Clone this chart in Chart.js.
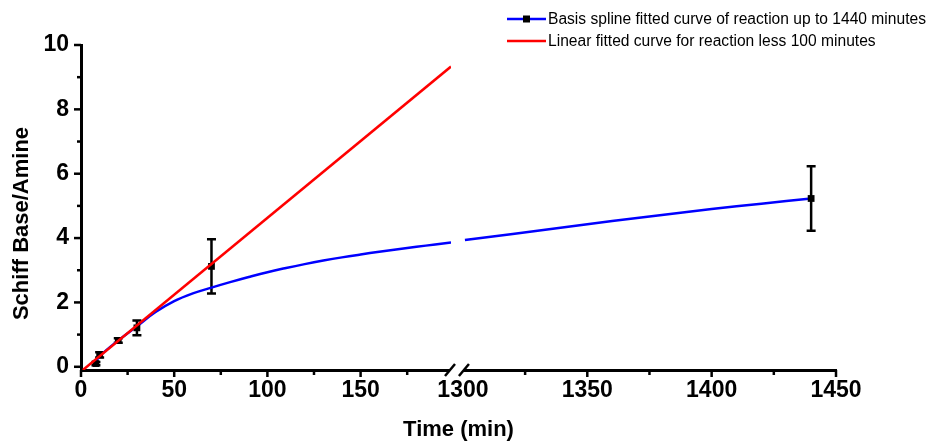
<!DOCTYPE html>
<html>
<head>
<meta charset="utf-8">
<script src="https://cdn.jsdelivr.net/npm/chart.js@4.4.1/dist/chart.umd.min.js"></script>
<style>
html, body { margin: 0; padding: 0; background: #fff; }
#wrap { width: 930px; height: 441px; position: relative; }
</style>
</head>
<body>
<div id="wrap"><canvas id="schiffChart"></canvas></div>
<script>
// measured points (time in min, Schiff base / amine) with std deviation
const pointTimesEarly = [8, 10, 20, 30, 70];
const pointValuesEarly = [0.1, 0.37, 0.82, 1.21, 3.12];
const pointErrorsEarly = [0.05, 0.08, 0.07, 0.23, 0.84];
const pointTimesLate = [1440];
const pointValuesLate = [5.23];
const pointErrorsLate = [1.0];

// basis spline curve
const splineTimesEarly = [8, 10, 20, 30, 40, 50, 60, 70, 80, 90, 100, 110, 120, 130, 140, 150, 160, 170, 180, 190, 198.5];
const splineValuesEarly = [0.15, 0.33, 0.82, 1.26, 1.7, 2.04, 2.28, 2.46, 2.63, 2.79, 2.94, 3.07, 3.19, 3.3, 3.4, 3.49, 3.575, 3.655, 3.73, 3.8, 3.86];
const splineTimesLate = [1300.8, 1320, 1340, 1360, 1380, 1400, 1420, 1440];
const splineValuesLate = [3.94, 4.13, 4.33, 4.53, 4.72, 4.9, 5.07, 5.23];

// linear fit of the first 100 minutes
const linearTimes = [1, 198.5];
const linearValues = [-0.1, 9.33];

const yTicks = [0, 1, 2, 3, 4, 5, 6, 7, 8, 9, 10];
const xTicksEarly = [0, 25, 50, 75, 100, 125, 150, 175];
const xTicksLate = [1300, 1325, 1350, 1375, 1400, 1425, 1450];

const seriesLabels = [
    'Basis spline fitted curve of reaction up to 1440 minutes',
    'Linear fitted curve for reaction less 100 minutes'
];
const xTitle = 'Time (min)';
const yTitle = 'Schiff Base/Amine';

const BLUE = 'rgb(0, 0, 255)';
const RED = 'rgb(255, 0, 0)';
const FONT = '"Liberation Sans", Arial, Helvetica, sans-serif';

const toXY = (xs, ys) => xs.map((x, i) => ({ x: x, y: ys[i] }));

function drawErrorBars(ctx, xScale, yScale, xs, ys, errs) {
    ctx.save();
    ctx.strokeStyle = '#000';
    ctx.lineWidth = 2.5;
    xs.forEach((t, i) => {
        const px = xScale.getPixelForValue(t);
        const top = yScale.getPixelForValue(ys[i] + errs[i]);
        const bot = yScale.getPixelForValue(ys[i] - errs[i]);
        ctx.beginPath();
        ctx.moveTo(px, top); ctx.lineTo(px, bot);
        ctx.moveTo(px - 4.5, top); ctx.lineTo(px + 4.5, top);
        ctx.moveTo(px - 4.5, bot); ctx.lineTo(px + 4.5, bot);
        ctx.stroke();
    });
    ctx.restore();
}

const brokenAxisPlugin = {
    id: 'brokenAxis',
    beforeDatasetsDraw(chart) {
        const { ctx, scales } = chart;
        drawErrorBars(ctx, scales.x1, scales.y, pointTimesEarly, pointValuesEarly, pointErrorsEarly);
        drawErrorBars(ctx, scales.x2, scales.y, pointTimesLate, pointValuesLate, pointErrorsLate);
    },
    afterDraw(chart) {
        const { ctx, scales, chartArea } = chart;
        const axisY = chartArea.bottom;
        ctx.save();
        ctx.strokeStyle = '#000';
        ctx.lineWidth = 2.5;

        // tick marks: long for labelled values, short for the others
        const yScale = scales.y;
        yScale.ticks.forEach(t => {
            const py = yScale.getPixelForValue(t.value);
            const len = t.value % 2 === 0 ? 7 : 4;
            ctx.beginPath();
            ctx.moveTo(chartArea.left - len, py);
            ctx.lineTo(chartArea.left, py);
            ctx.stroke();
        });
        [scales.x1, scales.x2].forEach(sc => {
            sc.ticks.forEach(t => {
                if (t.value === 1300) return;
                const px = sc.getPixelForValue(t.value);
                const len = t.value % 50 === 0 ? 7 : 5;
                ctx.beginPath();
                ctx.moveTo(px, axisY);
                ctx.lineTo(px, axisY + len);
                ctx.stroke();
            });
        });

        // axis break
        const b1 = scales.x1.right - 1;
        const b2 = scales.x2.getPixelForValue(1300) + 1;
        ctx.fillStyle = '#fff';
        ctx.fillRect(b1, axisY - 3, b2 - b1, 6);
        ctx.lineWidth = 2.5;
        [b1, b2].forEach(bx => {
            ctx.beginPath();
            ctx.moveTo(bx - 5, axisY + 6);
            ctx.lineTo(bx + 5, axisY - 6);
            ctx.stroke();
        });

        // axis titles
        ctx.fillStyle = '#000';
        ctx.font = 'bold 22px ' + FONT;
        ctx.textAlign = 'center';
        ctx.textBaseline = 'middle';
        ctx.fillText(xTitle, (scales.x1.left + scales.x2.right) / 2, 430);
        ctx.save();
        ctx.translate(22, (chartArea.top + chartArea.bottom) / 2 + 16);
        ctx.rotate(-Math.PI / 2);
        ctx.fillText(yTitle, 0, 0);
        ctx.restore();

        // legend
        const legendRows = [
            { label: seriesLabels[0], color: BLUE, marker: true, y: 19 },
            { label: seriesLabels[1], color: RED, marker: false, y: 41 }
        ];
        ctx.font = '15.6px ' + FONT;
        ctx.textAlign = 'left';
        legendRows.forEach(row => {
            ctx.strokeStyle = row.color;
            ctx.lineWidth = 2.5;
            ctx.beginPath();
            ctx.moveTo(507, row.y);
            ctx.lineTo(546, row.y);
            ctx.stroke();
            if (row.marker) {
                ctx.fillStyle = '#000';
                ctx.fillRect(523, row.y - 3.5, 7, 7);
            }
            ctx.fillStyle = '#000';
            ctx.fillText(row.label, 548, row.y + 1);
        });
        ctx.restore();
    }
};

const tickFont = { family: FONT, size: 23, weight: 'bold' };

const ctx = document.getElementById('schiffChart').getContext('2d');
new Chart(ctx, {
    type: 'line',
    data: {
        datasets: [
            {
                label: seriesLabels[1],
                data: toXY(linearTimes, linearValues),
                xAxisID: 'x1',
                borderColor: RED,
                borderWidth: 2.5,
                pointRadius: 0,
                order: 0
            },
            {
                type: 'scatter',
                label: 'points early',
                data: toXY(pointTimesEarly, pointValuesEarly),
                xAxisID: 'x1',
                pointStyle: 'rect',
                pointRadius: 4.8,
                backgroundColor: '#000',
                borderColor: '#000',
                borderWidth: 0,
                order: 1
            },
            {
                type: 'scatter',
                label: 'points late',
                data: toXY(pointTimesLate, pointValuesLate),
                xAxisID: 'x2',
                pointStyle: 'rect',
                pointRadius: 4.8,
                backgroundColor: '#000',
                borderColor: '#000',
                borderWidth: 0,
                order: 1
            },
            {
                label: seriesLabels[0],
                data: toXY(splineTimesEarly, splineValuesEarly),
                xAxisID: 'x1',
                borderColor: BLUE,
                borderWidth: 2.5,
                pointRadius: 0,
                tension: 0.4,
                order: 2
            },
            {
                label: seriesLabels[0] + ' (late)',
                data: toXY(splineTimesLate, splineValuesLate),
                xAxisID: 'x2',
                borderColor: BLUE,
                borderWidth: 2.5,
                pointRadius: 0,
                tension: 0.4,
                order: 2
            }
        ]
    },
    options: {
        responsive: true,
        maintainAspectRatio: false,
        animation: false,
        layout: { padding: { top: 45, right: 94, bottom: 0, left: 0 } },
        plugins: {
            legend: { display: false },
            tooltip: { enabled: false }
        },
        scales: {
            x1: {
                type: 'linear',
                position: 'bottom',
                stack: 'time',
                stackWeight: 370,
                min: 0,
                max: 198.5,
                grid: { display: false, drawTicks: false },
                border: { display: true, color: '#000', width: 3 },
                afterBuildTicks: sc => { sc.ticks = xTicksEarly.map(v => ({ value: v })); },
                afterFit: sc => { sc.height = 71; },
                ticks: {
                    autoSkip: false,
                    maxRotation: 0,
                    padding: 7,
                    color: '#000',
                    font: tickFont,
                    callback: v => (v % 50 === 0 ? String(v) : '')
                }
            },
            x2: {
                type: 'linear',
                position: 'bottom',
                stack: 'time',
                stackWeight: 385,
                min: 1295.2,
                max: 1450,
                grid: { display: false, drawTicks: false },
                border: { display: true, color: '#000', width: 3 },
                afterBuildTicks: sc => { sc.ticks = xTicksLate.map(v => ({ value: v })); },
                afterFit: sc => { sc.height = 71; },
                ticks: {
                    autoSkip: false,
                    maxRotation: 0,
                    padding: 7,
                    color: '#000',
                    font: tickFont,
                    callback: v => (v % 50 === 0 ? String(v) : '')
                }
            },
            y: {
                type: 'linear',
                position: 'left',
                min: -0.1,
                max: 10,
                grid: { display: false, drawTicks: false },
                border: { display: true, color: '#000', width: 3 },
                afterBuildTicks: sc => { sc.ticks = yTicks.map(v => ({ value: v })); },
                afterFit: sc => { sc.width = 81; },
                ticks: {
                    padding: 12,
                    color: '#000',
                    font: tickFont,
                    callback: v => (v % 2 === 0 ? String(v) : '')
                }
            }
        }
    },
    plugins: [brokenAxisPlugin]
});
</script>
</body>
</html>
